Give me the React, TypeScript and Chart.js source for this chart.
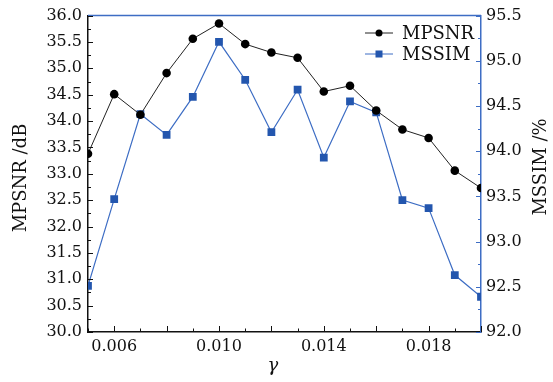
import React, { useEffect, useRef } from "react";
import { Chart, registerables } from "chart.js";

Chart.register(...registerables);

const gammaValues = [0.005, 0.006, 0.007, 0.008, 0.009, 0.01, 0.011, 0.012, 0.013, 0.014, 0.015, 0.016, 0.017, 0.018, 0.019, 0.02];
const mpsnrValues = [33.38, 34.51, 34.12, 34.91, 35.56, 35.85, 35.46, 35.3, 35.2, 34.56, 34.67, 34.2, 33.84, 33.68, 33.06, 32.73];
const mssimValues = [92.51, 93.47, 94.41, 94.18, 94.6, 95.21, 94.79, 94.21, 94.68, 93.93, 94.55, 94.43, 93.46, 93.37, 92.63, 92.39];
const xLabelValues = [0.006, 0.01, 0.014, 0.018];
const seriesNames = ["MPSNR", "MSSIM"];
const xTitle = "γ";
const yTitle = "MPSNR /dB";
const y1Title = "MSSIM /%";

const BLUE_LINE = "#3d6dc4";
const BLUE_POINT = "#2356ae";
const FONT = "DejaVu Serif";

function line(ctx: CanvasRenderingContext2D, x1: number, y1: number, x2: number, y2: number) {
  ctx.beginPath();
  ctx.moveTo(x1, y1);
  ctx.lineTo(x2, y2);
  ctx.stroke();
}

const decorPlugin = {
  id: "decor",
  afterDraw(chart: any) {
    const { ctx, chartArea: a, scales } = chart;
    ctx.save();
    // top border
    ctx.strokeStyle = BLUE_LINE;
    ctx.lineWidth = 1.5;
    line(ctx, a.left, a.top, a.right, a.top);

    // x ticks (inward)
    ctx.strokeStyle = "#111";
    ctx.lineWidth = 1;
    const xs = scales.x;
    for (let i = 5; i <= 20; i++) {
      const px = Math.round(xs.getPixelForValue(i / 1000)) + 0.5;
      const len = i % 2 === 0 ? 6 : 3.5;
      line(ctx, px, a.bottom, px, a.bottom - len);
    }
    // left ticks
    const ys = scales.y;
    for (let i = 0; i <= 24; i++) {
      const v = 30 + i * 0.25;
      const py = Math.round(ys.getPixelForValue(v)) + 0.5;
      const len = i % 2 === 0 ? 5 : 3;
      line(ctx, a.left, py, a.left + len, py);
    }
    // right ticks
    ctx.strokeStyle = BLUE_LINE;
    const y1s = scales.y1;
    for (let i = 0; i <= 14; i++) {
      const v = 92 + i * 0.25;
      const py = Math.round(y1s.getPixelForValue(v)) + 0.5;
      const len = i % 2 === 0 ? 5 : 3;
      line(ctx, a.right, py, a.right - len, py);
    }

    // axis titles
    ctx.fillStyle = "#111";
    ctx.font = `18px "${FONT}"`;
    ctx.textBaseline = "alphabetic";
    ctx.textAlign = "center";
    ctx.save();
    ctx.translate(26, 178);
    ctx.rotate(-Math.PI / 2);
    ctx.fillText(yTitle, 0, 0);
    ctx.restore();
    ctx.save();
    ctx.translate(546, 167);
    ctx.rotate(-Math.PI / 2);
    ctx.fillText(y1Title, 0, 0);
    ctx.restore();
    ctx.font = `italic 18px "${FONT}"`;
    ctx.fillText(xTitle, 273, 371);

    // legend
    const rows = [33, 54];
    chart.data.datasets.forEach((ds: any, i: number) => {
      const y = rows[i];
      ctx.strokeStyle = ds.borderColor;
      ctx.lineWidth = 1;
      line(ctx, 365, y, 393, y);
      ctx.fillStyle = ds.pointBackgroundColor;
      if (ds.pointStyle === "circle") {
        ctx.beginPath();
        ctx.arc(379, y, 3.5, 0, Math.PI * 2);
        ctx.fill();
      } else {
        ctx.fillRect(375.5, y - 3.5, 7, 7);
      }
      ctx.fillStyle = "#111";
      ctx.font = `18px "${FONT}"`;
      ctx.textAlign = "left";
      ctx.textBaseline = "middle";
      ctx.fillText(ds.label, 402, y + 1);
    });
    ctx.restore();
  },
};

export default function App() {
  const ref = useRef<HTMLCanvasElement>(null);
  useEffect(() => {
    if (!ref.current) return;
    const chart = new Chart(ref.current, {
      type: "line",
      data: {
        datasets: [
          {
            label: seriesNames[0],
            data: gammaValues.map((g, i) => ({ x: g, y: mpsnrValues[i] })),
            yAxisID: "y",
            borderColor: "#222",
            borderWidth: 1,
            pointStyle: "circle",
            pointRadius: 4.3,
            pointBackgroundColor: "#000",
            pointBorderWidth: 0,
            clip: 0,
          },
          {
            label: seriesNames[1],
            data: gammaValues.map((g, i) => ({ x: g, y: mssimValues[i] })),
            yAxisID: "y1",
            borderColor: BLUE_LINE,
            borderWidth: 1.2,
            pointStyle: "rect",
            pointRadius: 5.5,
            pointBackgroundColor: BLUE_POINT,
            pointBorderWidth: 0,
            clip: 0,
          },
        ] as any,
      },
      options: {
        animation: false,
        responsive: false,
        layout: { padding: { top: 15, left: 0, right: 0, bottom: 0 } },
        plugins: { legend: { display: false }, tooltip: { enabled: false } },
        scales: {
          x: {
            type: "linear",
            min: 0.005,
            max: 0.02,
            afterBuildTicks: (s: any) => {
              s.ticks = gammaValues.map((v) => ({ value: v }));
            },
            afterFit: (s: any) => {
              s.height = 50;
            },
            grid: { display: false, drawTicks: false },
            border: { display: true, color: "#111", width: 1.5 },
            ticks: {
              autoSkip: false,
              maxRotation: 0,
              padding: 5,
              color: "#111",
              font: { family: FONT, size: 16 },
              callback: (v: any) => {
                const n = Number(v);
                return xLabelValues.some((l) => Math.abs(l - n) < 1e-7) ? n.toFixed(3) : "";
              },
            },
          },
          y: {
            type: "linear",
            position: "left",
            min: 30,
            max: 36,
            afterFit: (s: any) => {
              s.width = 88;
            },
            grid: { display: false, drawTicks: false },
            border: { display: true, color: "#111", width: 1.5 },
            ticks: {
              stepSize: 0.5,
              padding: 6,
              color: "#111",
              font: { family: FONT, size: 16 },
              callback: (v: any) => Number(v).toFixed(1),
            },
          },
          y1: {
            type: "linear",
            position: "right",
            min: 92,
            max: 95.5,
            afterFit: (s: any) => {
              s.width = 72;
            },
            grid: { display: false, drawTicks: false },
            border: { display: true, color: BLUE_LINE, width: 1.5 },
            ticks: {
              stepSize: 0.5,
              padding: 5,
              color: "#111",
              font: { family: FONT, size: 16 },
              callback: (v: any) => Number(v).toFixed(1),
            },
          },
        },
      } as any,
      plugins: [decorPlugin],
    });
    return () => chart.destroy();
  }, []);
  return (
    <div style={{ position: "fixed", left: 0, top: 0, width: 553, height: 382, overflow: "hidden", background: "#fff" }}>
      <canvas ref={ref} width={553} height={382} style={{ width: 553, height: 382, display: "block" }} />
    </div>
  );
}
